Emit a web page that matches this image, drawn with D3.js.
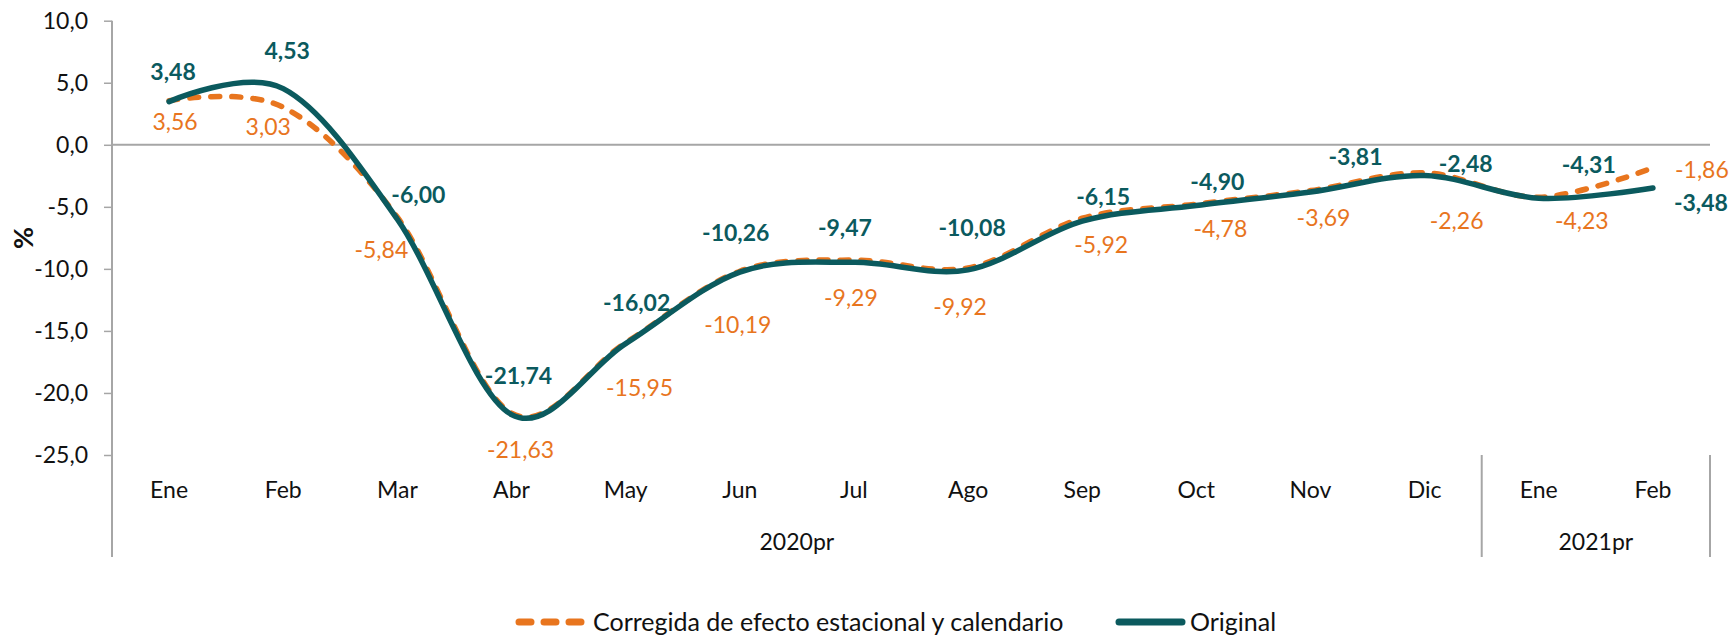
<!DOCTYPE html>
<html>
<head>
<meta charset="utf-8">
<script src="https://cdn.jsdelivr.net/npm/d3@7"></script>
<style>
  html, body { margin: 0; padding: 0; background: #ffffff; }
  svg { display: block; font-family: Lato, "Open Sans", sans-serif; }
</style>
</head>
<body>
<svg id="chart" width="1733" height="638"></svg>
<script>
// ---------------- DATA ----------------
const months = ["Ene","Feb","Mar","Abr","May","Jun","Jul","Ago","Sep","Oct","Nov","Dic","Ene","Feb"];
const yearGroups = ["2020pr", "2021pr"];
const yearGroupSizes = [12, 2];
const original  = [3.48, 4.53, -6.00, -21.74, -16.02, -10.26, -9.47, -10.08, -6.15, -4.90, -3.81, -2.48, -4.31, -3.48];
const corregida = [3.56, 3.03, -5.84, -21.63, -15.95, -10.19, -9.29, -9.92, -5.92, -4.78, -3.69, -2.26, -4.23, -1.86];
const yTicks = [10, 5, 0, -5, -10, -15, -20, -25];
const seriesNames = ["Corregida de efecto estacional y calendario", "Original"];
const yTitle = "%";

// ---------------- LAYOUT (label offsets in px, relative to each point) ----------------
const origLabelDx = [4, 4, 21, 7, 11, -4, -9, 4, 21, 21, 45, 41, 50, 48];
const origLabelDy = [-30, -38, -24, -39, -41, -39, -34, -42, -24, -24, -35, -12, -33, 15];
const corrLabelDx = [6, -15, -16, 9, 14, -2, -3, -8, 19, 24, 13, 32, 43, 49];
const corrLabelDy = [21, 20, 33, 37, 45, 54, 38, 39, 27, 25, 27, 48, 24, 2];

const TEAL = "#0b5a5e";
const ORANGE = "#e8751e";
const AXIS = "#a6a6a6";
const FS = 23;

const svg = d3.select("#chart");
const plot = { left: 112, right: 1710, top: 20.7, bottom: 455 };
const catBottom = 557;

const x = d3.scaleBand().domain(d3.range(months.length)).range([plot.left, plot.right]).paddingInner(0).paddingOuter(0);
const cx = i => x(i) + x.bandwidth() / 2;
const y = d3.scaleLinear().domain([-25, 10]).range([plot.bottom, plot.top]);

const loc = d3.formatLocale({ decimal: ",", thousands: ".", grouping: [3], currency: ["", ""], minus: "-" });
const f1 = loc.format(".1f");
const f2 = loc.format(".2f");

// Y axis
const yAxis = d3.axisLeft(y).tickValues(yTicks).tickFormat(f1).tickSize(8).tickSizeOuter(0).tickPadding(16);
const gy = svg.append("g").attr("transform", `translate(${plot.left},0)`).call(yAxis);
gy.select(".domain").remove();
gy.selectAll(".tick line").attr("stroke", AXIS).attr("stroke-width", 1.5);
gy.selectAll(".tick text").attr("font-size", FS).attr("fill", "#111").attr("font-family", "Lato, sans-serif");
svg.append("line").attr("x1", plot.left).attr("x2", plot.left).attr("y1", plot.top).attr("y2", catBottom)
  .attr("stroke", AXIS).attr("stroke-width", 2);

// zero line
svg.append("line").attr("x1", plot.left).attr("x2", plot.right).attr("y1", y(0)).attr("y2", y(0))
  .attr("stroke", AXIS).attr("stroke-width", 2);

// X axis (month labels)
const xAxis = d3.axisBottom(x).tickFormat(i => months[i]).tickSize(0).tickPadding(27);
const gx = svg.append("g").attr("transform", `translate(0,${plot.bottom})`).call(xAxis);
gx.select(".domain").remove();
gx.selectAll(".tick text").attr("font-size", FS).attr("fill", "#111").attr("font-family", "Lato, sans-serif");

// year group separators & labels
let start = 0;
yearGroups.forEach((g, k) => {
  const end = start + yearGroupSizes[k];
  const xs = x(start), xe = x(end - 1) + x.bandwidth();
  svg.append("line").attr("x1", xe).attr("x2", xe).attr("y1", plot.bottom).attr("y2", catBottom)
    .attr("stroke", AXIS).attr("stroke-width", 2);
  svg.append("text").attr("x", (xs + xe) / 2).attr("y", 542).attr("dy", "0.35em")
    .attr("text-anchor", "middle").attr("font-size", FS).attr("fill", "#111").text(g);
  start = end;
});

// y title
svg.append("text").attr("transform", `translate(33,238) rotate(-90)`).attr("text-anchor", "middle")
  .attr("font-size", 27).attr("font-weight", "bold").attr("fill", "#111").text(yTitle);

// lines
const line = d3.line().x((d, i) => cx(i)).y(d => y(d)).curve(d3.curveCatmullRom.alpha(0));
svg.append("path").datum(corregida).attr("d", line).attr("fill", "none")
  .attr("stroke", ORANGE).attr("stroke-width", 5.5).attr("stroke-dasharray", "9,12").attr("stroke-linecap", "round");
svg.append("path").datum(original).attr("d", line).attr("fill", "none")
  .attr("stroke", TEAL).attr("stroke-width", 5.5).attr("stroke-linecap", "round");

// data labels
svg.append("g").selectAll("text").data(original).join("text")
  .attr("x", (d, i) => cx(i) + origLabelDx[i]).attr("y", (d, i) => y(d) + origLabelDy[i]).attr("dy", "0.35em")
  .attr("text-anchor", "middle").attr("font-size", FS).attr("font-weight", "bold").attr("fill", TEAL)
  .text(d => f2(d));
svg.append("g").selectAll("text").data(corregida).join("text")
  .attr("x", (d, i) => cx(i) + corrLabelDx[i]).attr("y", (d, i) => y(d) + corrLabelDy[i]).attr("dy", "0.35em")
  .attr("text-anchor", "middle").attr("font-size", FS).attr("fill", ORANGE)
  .text(d => f2(d));

// legend
const ly = 622;
const lg = svg.append("g");
lg.append("line").attr("x1", 519).attr("x2", 581).attr("y1", ly).attr("y2", ly)
  .attr("stroke", ORANGE).attr("stroke-width", 7).attr("stroke-dasharray", "12,13").attr("stroke-linecap", "round");
lg.append("text").attr("x", 593).attr("y", ly).attr("dy", "0.35em").attr("font-size", 25).attr("fill", "#111").text(seriesNames[0]);
lg.append("line").attr("x1", 1119).attr("x2", 1182).attr("y1", ly).attr("y2", ly)
  .attr("stroke", TEAL).attr("stroke-width", 7).attr("stroke-linecap", "round");
lg.append("text").attr("x", 1190).attr("y", ly).attr("dy", "0.35em").attr("font-size", 25).attr("fill", "#111").text(seriesNames[1]);
</script>
</body>
</html>
